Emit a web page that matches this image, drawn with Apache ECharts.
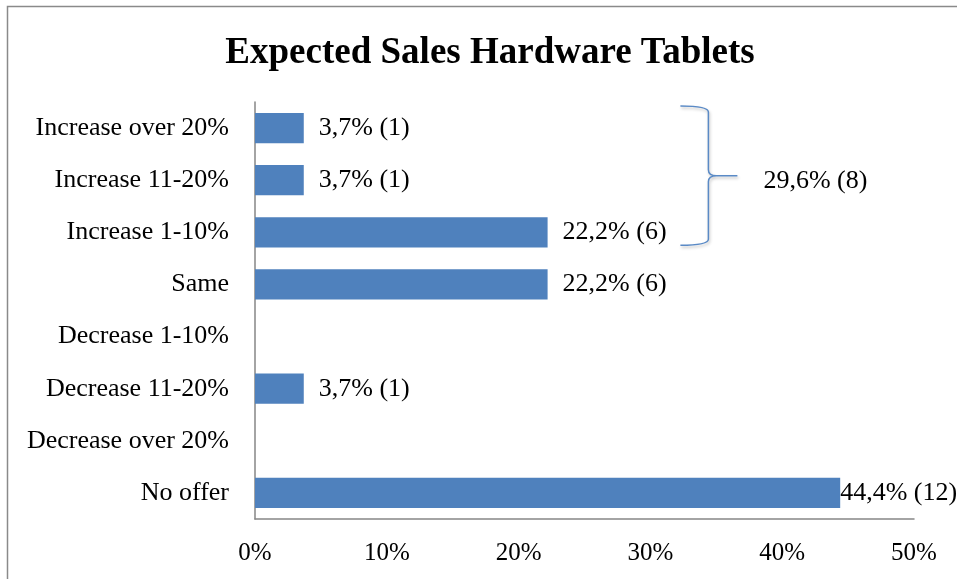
<!DOCTYPE html>
<html>
<head>
<meta charset="utf-8">
<style>
  html, body { margin: 0; padding: 0; background: #fff; }
  #chart { width: 957px; height: 579px; }
</style>
<script src="https://cdn.jsdelivr.net/npm/echarts@6/dist/echarts.min.js"></script>
</head>
<body>
<div id="chart"></div>
<script>
// Answer categories, listed top to bottom
const categories = [
  'Increase over 20%', 'Increase 11-20%', 'Increase 1-10%', 'Same',
  'Decrease 1-10%', 'Decrease 11-20%', 'Decrease over 20%', 'No offer'
];
// Share of respondents (%) and respondent counts per category
const percents = [3.7, 3.7, 22.2, 22.2, 0, 3.7, 0, 44.4];
const counts = [1, 1, 6, 6, 0, 1, 0, 12];
// Axis ticks (%)
const axisMin = 0, axisMax = 50, axisStep = 10;
// Categories grouped by the brace (all "Increase" answers)
const increaseGroup = [0, 1, 2];

const FONT = '"Liberation Serif", "Times New Roman", serif';
const fmt = (v, n) => v.toFixed(1).replace('.', ',') + '% (' + n + ')';

const groupPct = increaseGroup.reduce((s, i) => s + percents[i], 0);
const groupCnt = increaseGroup.reduce((s, i) => s + counts[i], 0);

const barData = percents.map((v, i) => {
  const item = { value: v };
  if (v === 0) item.label = { show: false };
  if (i === percents.length - 1) item.label = { distance: 0 };
  return item;
});

const chart = echarts.init(document.getElementById('chart'), null, { renderer: 'canvas' });
chart.setOption({
  animation: false,
  backgroundColor: '#fff',
  title: {
    text: 'Expected Sales Hardware Tablets',
    left: 485, top: 30, textAlign: 'center',
    textStyle: { fontFamily: FONT, fontSize: 37, fontWeight: 'bold', color: '#000' }
  },
  graphic: [{
    type: 'rect', silent: true, z: -1,
    shape: { x: 7.5, y: 6.5, width: 1000, height: 1000 },
    style: { fill: 'none', stroke: '#8a8a8a', lineWidth: 1.5 }
  }],
  grid: { left: 255, right: 43, top: 102, bottom: 60, containLabel: false },
  xAxis: {
    type: 'value', min: axisMin, max: axisMax, interval: axisStep,
    axisLine: { show: true, lineStyle: { color: '#868686', width: 1.5 } },
    axisTick: { show: false },
    splitLine: { show: false },
    axisLabel: { formatter: '{value}%', margin: 22, fontFamily: FONT, fontSize: 25, color: '#000' }
  },
  yAxis: {
    type: 'category', data: categories, inverse: true,
    axisLine: { show: true, lineStyle: { color: '#868686', width: 1.5 } },
    axisTick: { show: false },
    axisLabel: { margin: 26, fontFamily: FONT, fontSize: 26, color: '#000', padding: [2, 0, 0, 0] }
  },
  series: [{
    type: 'bar',
    data: barData,
    barCategoryGap: '42%',
    itemStyle: { color: '#4F81BD' },
    label: {
      show: true, position: 'right', distance: 15,
      fontFamily: FONT, fontSize: 26, color: '#000',
      formatter: p => fmt(percents[p.dataIndex], counts[p.dataIndex])
    }
  }, {
    // Curly brace summarising the "Increase" answers
    type: 'custom',
    silent: true,
    data: [[34.4, increaseGroup[0], increaseGroup[increaseGroup.length - 1]]],
    renderItem: (params, api) => {
      const x = api.coord([api.value(0), api.value(1)])[0];
      const top = api.coord([0, api.value(1)])[1] - 22;
      const bot = api.coord([0, api.value(2)])[1] + 13;
      const mid = (top + bot) / 2;
      const l = x - 28, tip = x + 29, r = 6;
      const path =
        `M${l},${top} Q${x},${top} ${x},${top + r} L${x},${mid - r} ` +
        `Q${x},${mid} ${x + 8},${mid} L${tip},${mid} M${x + 8},${mid} ` +
        `Q${x},${mid} ${x},${mid + r} L${x},${bot - r} Q${x},${bot} ${l},${bot}`;
      return {
        type: 'group',
        children: [{
          type: 'path',
          shape: { pathData: path },
          style: {
            fill: 'none', stroke: '#5a8ac6', lineWidth: 1.5,
            shadowBlur: 3, shadowColor: 'rgba(0,0,0,0.25)', shadowOffsetX: 1, shadowOffsetY: 2
          }
        }, {
          type: 'text',
          style: {
            x: tip + 26, y: mid + 5,
            text: fmt(groupPct, groupCnt),
            font: '26px ' + FONT, fill: '#000',
            verticalAlign: 'middle', align: 'left'
          }
        }]
      };
    }
  }]
});
</script>
</body>
</html>
